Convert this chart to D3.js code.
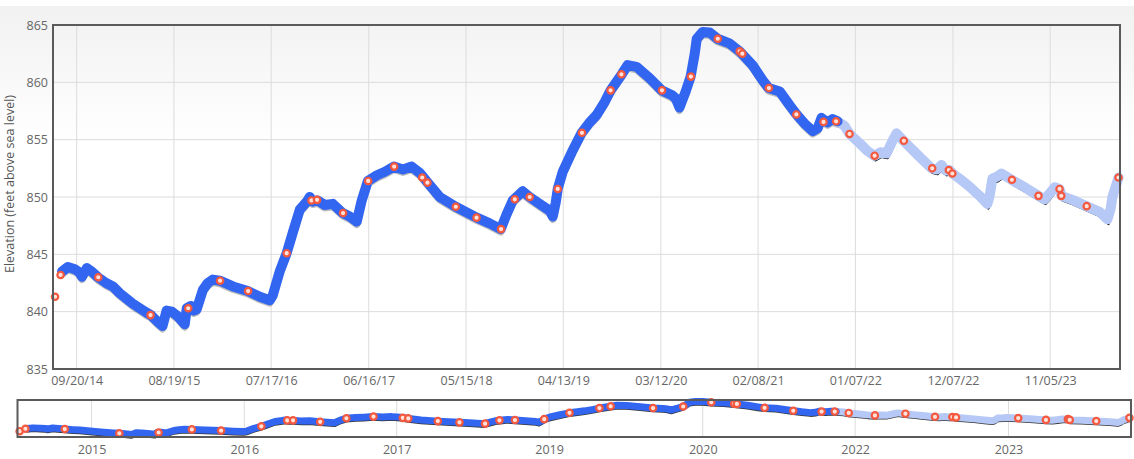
<!DOCTYPE html>
<html>
<head>
<meta charset="utf-8">
<script src="https://cdn.jsdelivr.net/npm/d3@7"></script>
<style>
    body { margin: 0; background: #fff; }
    svg { display: block; font-family: "Open Sans", sans-serif; }
</style>
</head>
<body>
<svg id="chart" width="1134" height="459"></svg>
<script>

// approved record (dark blue band)
var approvedDates = ["2014-08-01","2014-08-21","2014-09-14","2014-10-01","2014-10-08","2014-10-25","2014-11-11","2014-12-02","2014-12-30","2015-01-22","2015-02-15","2015-03-31","2015-05-12","2015-06-01","2015-06-25","2015-07-11","2015-07-25","2015-08-12","2015-09-01","2015-09-25","2015-10-02","2015-10-16","2015-10-26","2015-11-05","2015-11-26","2015-12-13","2015-12-30","2016-01-23","2016-03-08","2016-04-28","2016-06-08","2016-07-12","2016-07-22","2016-08-15","2016-09-08","2016-09-29","2016-10-23","2016-11-16","2016-11-26","2016-12-06","2016-12-23","2017-01-16","2017-02-13","2017-03-19","2017-04-12","2017-05-06","2017-05-23","2017-06-13","2017-07-14","2017-08-10","2017-09-10","2017-10-11","2017-11-10","2017-12-08","2018-01-04","2018-02-14","2018-04-10","2018-06-21","2018-08-04","2018-09-11","2018-10-01","2018-10-22","2018-11-08","2018-11-25","2018-12-19","2019-01-22","2019-02-26","2019-03-08","2019-03-18","2019-03-25","2019-04-11","2019-05-12","2019-06-15","2019-07-12","2019-08-05","2019-09-02","2019-09-22","2019-10-30","2019-11-19","2019-12-20","2020-02-03","2020-03-15","2020-04-18","2020-05-02","2020-05-15","2020-06-05","2020-06-22","2020-07-06","2020-07-13","2020-08-02","2020-08-26","2020-09-22","2020-11-02","2020-12-07","2021-01-20","2021-02-23","2021-03-16","2021-04-23","2021-05-27","2021-06-20","2021-07-17","2021-08-14","2021-08-31","2021-09-13","2021-10-04","2021-10-21","2021-11-07"];
var approvedValues = [843.5,843.9,843.7,843.4,843.05,843.8,843.5,843.0,842.5,842.2,841.6,840.7,840.0,839.7,839.1,838.75,840.1,840.0,839.6,838.9,840.3,840.5,840.1,840.2,841.9,842.5,842.8,842.7,842.2,841.8,841.3,841.0,841.4,843.5,845.1,846.9,848.9,849.6,850.0,849.6,849.7,849.3,849.4,848.6,848.3,847.85,849.7,851.4,851.9,852.2,852.65,852.4,852.65,852.1,851.25,850.0,849.15,848.2,847.7,847.2,848.5,849.7,850.1,850.5,850.0,849.4,848.8,848.3,849.5,850.7,852.2,853.9,855.6,856.5,857.15,858.3,859.3,860.7,861.5,861.35,860.35,859.3,858.9,858.6,857.8,859.2,860.5,862.5,863.8,864.4,864.35,863.8,863.4,862.7,861.5,860.2,859.5,859.2,858.0,857.2,856.4,855.75,856.0,856.9,856.5,856.8,856.6];

// provisional record (light blue band)
var provisionalDates = ["2021-11-07","2021-12-01","2021-12-18","2022-01-21","2022-02-18","2022-03-14","2022-04-03","2022-04-24","2022-05-14","2022-05-28","2022-06-21","2022-07-18","2022-08-15","2022-09-25","2022-10-12","2022-10-29","2022-11-12","2022-11-25","2022-12-06","2022-12-30","2023-02-02","2023-03-08","2023-04-04","2023-04-11","2023-04-21","2023-05-09","2023-05-22","2023-06-26","2023-08-16","2023-09-26","2023-10-17","2023-11-03","2023-11-20","2023-12-07","2023-12-14","2024-01-20","2024-03-08","2024-04-22","2024-05-19","2024-05-30","2024-06-05","2024-06-26"];
var provisionalValues = [856.6,856.2,855.5,854.7,854.0,853.6,853.9,853.8,854.9,855.55,854.9,854.2,853.5,852.5,852.4,852.8,852.3,852.35,852.05,851.6,850.9,850.1,849.4,850.0,851.6,851.8,852.05,851.5,850.75,850.1,849.8,850.3,850.85,850.7,850.1,849.75,849.2,848.7,848.05,849.0,850.0,851.7];

// field measurements (red circles)
var sampleDates = ["2014-07-08","2014-07-27","2014-12-03","2015-05-31","2015-10-07","2016-01-24","2016-04-29","2016-09-08","2016-12-02","2016-12-21","2017-03-20","2017-06-14","2017-09-11","2017-12-16","2018-01-03","2018-04-10","2018-06-20","2018-09-12","2018-10-29","2018-12-19","2019-03-25","2019-06-16","2019-09-22","2019-10-29","2020-03-16","2020-06-23","2020-09-23","2020-12-07","2020-12-16","2021-03-17","2021-06-19","2021-09-20","2021-11-02","2021-12-18","2022-03-14","2022-06-22","2022-09-27","2022-11-23","2022-12-05","2023-06-27","2023-09-26","2023-12-07","2023-12-13","2024-03-09","2024-06-26"];
var sampleValues = [841.3,843.2,843.0,839.7,840.3,842.7,841.8,845.1,849.7,849.75,848.6,851.4,852.65,851.7,851.25,849.15,848.2,847.2,849.8,850.0,850.7,855.6,859.3,860.7,859.3,860.5,863.8,862.7,862.5,859.5,857.2,856.55,856.6,855.5,853.6,854.9,852.5,852.35,852.05,851.5,850.1,850.7,850.1,849.2,851.7];

var xDomain = ["2014-07-01", "2024-07-01"];
var yDomain = [835, 865];
var yTicks = [835, 840, 845, 850, 855, 860, 865];
var xTickLabels = ["09/20/14","08/19/15","07/17/16","06/16/17","05/15/18","04/13/19","03/12/20","02/08/21","01/07/22","12/07/22","11/05/23"];
var navTickDates = ["2015-03-01","2016-07-14","2017-11-26","2019-04-10","2020-08-26","2022-01-08","2023-05-26"];

var parseIso = d3.timeParse("%Y-%m-%d");
var parseTick = d3.timeParse("%m/%d/%y");

function zip(dates, values) {
    return dates.map(function(d, i) { return { date: parseIso(d), value: values[i] }; });
}

var approved = zip(approvedDates, approvedValues);
var provisional = zip(provisionalDates, provisionalValues);
var samples = zip(sampleDates, sampleValues);

var svg = d3.select("#chart");

// soft grey fade at the top of the page
var defs = svg.append("defs");
var grad = defs.append("linearGradient")
    .attr("id", "bg").attr("x1", 0).attr("y1", 0).attr("x2", 0).attr("y2", 1);
grad.append("stop").attr("offset", "0").attr("stop-color", "#f1f1f1");
grad.append("stop").attr("offset", "0.3").attr("stop-color", "#ffffff");
svg.append("rect")
    .attr("x", 0).attr("y", 6).attr("width", 1134).attr("height", 453)
    .attr("fill", "url(#bg)");

var main = { left: 53, right: 1120, top: 25, bottom: 369 };
var nav = { left: 17.5, right: 1131, top: 400, bottom: 437 };

var x = d3.scaleTime()
    .domain(xDomain.map(parseIso))
    .range([main.left, main.right]);
var y = d3.scaleLinear()
    .domain(yDomain)
    .range([main.bottom, main.top]);

var allValues = approvedValues.concat(provisionalValues);
var xNav = d3.scaleTime()
    .domain(xDomain.map(parseIso))
    .range([nav.left, nav.right]);
var yNav = d3.scaleLinear()
    .domain(d3.extent(allValues))
    .range([nav.bottom - 2.5, nav.top + 1.5]);

draw_main();
draw_navigator();


function draw_main() {
    var g = svg.append("g");

    // grid
    g.append("g").selectAll("line")
        .data(yTicks)
        .enter().append("line")
        .attr("x1", main.left).attr("x2", main.right)
        .attr("y1", function(d) { return y(d); })
        .attr("y2", function(d) { return y(d); })
        .attr("stroke", "#dcdcdc");

    g.append("g").selectAll("line")
        .data(xTickLabels.map(parseTick))
        .enter().append("line")
        .attr("x1", function(d) { return x(d); })
        .attr("x2", function(d) { return x(d); })
        .attr("y1", main.top).attr("y2", main.bottom)
        .attr("stroke", "#dcdcdc");

    // axes, with the library doing the tick placement
    var yAxis = d3.axisLeft(y).tickValues(yTicks).tickSize(0).tickPadding(5);
    g.append("g")
        .attr("transform", "translate(" + main.left + ",0)")
        .call(yAxis)
        .call(style_axis);

    var xAxis = d3.axisBottom(x)
        .tickValues(xTickLabels.map(parseTick))
        .tickFormat(d3.timeFormat("%m/%d/%y"))
        .tickSize(0).tickPadding(7);
    g.append("g")
        .attr("transform", "translate(0," + main.bottom + ")")
        .call(xAxis)
        .call(style_axis);

    g.append("text")
        .attr("transform", "translate(14," + 184 + ") rotate(-90)")
        .attr("text-anchor", "middle")
        .attr("font-size", 12.5)
        .attr("fill", "#555")
        .text("Elevation (feet above sea level)");

    var line = d3.line()
        .x(function(d) { return x(d.date); })
        .y(function(d) { return y(d.value); });

    // shadows first
    g.append("path")
        .attr("d", line(approved))
        .attr("transform", "translate(0,3)")
        .attr("fill", "none").attr("stroke", "#000").attr("stroke-opacity", 0.25)
        .attr("stroke-width", 7).attr("stroke-linejoin", "round").attr("stroke-linecap", "round");
    g.append("path")
        .attr("d", line(provisional))
        .attr("transform", "translate(1,4.5)")
        .attr("fill", "none").attr("stroke", "#111")
        .attr("stroke-width", 2.5).attr("stroke-linejoin", "round");

    g.append("path")
        .attr("d", line(provisional))
        .attr("fill", "none").attr("stroke", "#b6c8f6")
        .attr("stroke-width", 10).attr("stroke-linejoin", "round").attr("stroke-linecap", "round");
    g.append("path")
        .attr("d", line(approved))
        .attr("fill", "none").attr("stroke", "#3366f0")
        .attr("stroke-width", 10).attr("stroke-linejoin", "round").attr("stroke-linecap", "round");

    draw_samples(g, x, y);

    // plot frame
    g.append("rect")
        .attr("x", main.left).attr("y", main.top)
        .attr("width", main.right - main.left).attr("height", main.bottom - main.top)
        .attr("fill", "none").attr("stroke", "#5a5a5a").attr("stroke-width", 2);
}


function draw_navigator() {
    var g = svg.append("g");

    g.append("rect")
        .attr("x", nav.left).attr("y", nav.top)
        .attr("width", nav.right - nav.left).attr("height", nav.bottom - nav.top)
        .attr("fill", "#fff");

    var ticks = navTickDates.map(parseIso);
    g.append("g").selectAll("line")
        .data(ticks)
        .enter().append("line")
        .attr("x1", function(d) { return xNav(d); })
        .attr("x2", function(d) { return xNav(d); })
        .attr("y1", nav.top).attr("y2", nav.bottom)
        .attr("stroke", "#dcdcdc");

    var axis = d3.axisBottom(xNav)
        .tickValues(ticks)
        .tickFormat(d3.timeFormat("%Y"))
        .tickSize(0).tickPadding(8);
    g.append("g")
        .attr("transform", "translate(0," + nav.bottom + ")")
        .call(axis)
        .call(style_axis);

    var line = d3.line()
        .x(function(d) { return xNav(d.date); })
        .y(function(d) { return yNav(d.value); });

    g.append("path")
        .attr("d", line(approved.concat(provisional)))
        .attr("transform", "translate(0,2.5)")
        .attr("fill", "none").attr("stroke", "#111").attr("stroke-opacity", 0.85)
        .attr("stroke-width", 3.5).attr("stroke-linejoin", "round");
    g.append("path")
        .attr("d", line(provisional))
        .attr("fill", "none").attr("stroke", "#b6c8f6")
        .attr("stroke-width", 7).attr("stroke-linejoin", "round").attr("stroke-linecap", "round");
    g.append("path")
        .attr("d", line(approved))
        .attr("fill", "none").attr("stroke", "#3366f0")
        .attr("stroke-width", 7).attr("stroke-linejoin", "round").attr("stroke-linecap", "round");

    draw_samples(g, xNav, yNav);

    g.append("rect")
        .attr("x", nav.left).attr("y", nav.top)
        .attr("width", nav.right - nav.left).attr("height", nav.bottom - nav.top)
        .attr("fill", "none").attr("stroke", "#5a5a5a").attr("stroke-width", 2);
}


function draw_samples(g, xs, ys) {
    g.append("g").selectAll("circle")
        .data(samples)
        .enter().append("circle")
        .attr("cx", function(d) { return xs(d.date); })
        .attr("cy", function(d) { return ys(d.value); })
        .attr("r", 3.2)
        .attr("fill", "#ffe2da")
        .attr("stroke", "#f4583e")
        .attr("stroke-width", 2.2);
}


function style_axis(sel) {
    sel.select(".domain").remove();
    sel.selectAll("text")
        .attr("font-size", 12.5)
        .attr("font-family", "Open Sans, sans-serif")
        .attr("fill", "#666");
}

</script>
</body>
</html>
